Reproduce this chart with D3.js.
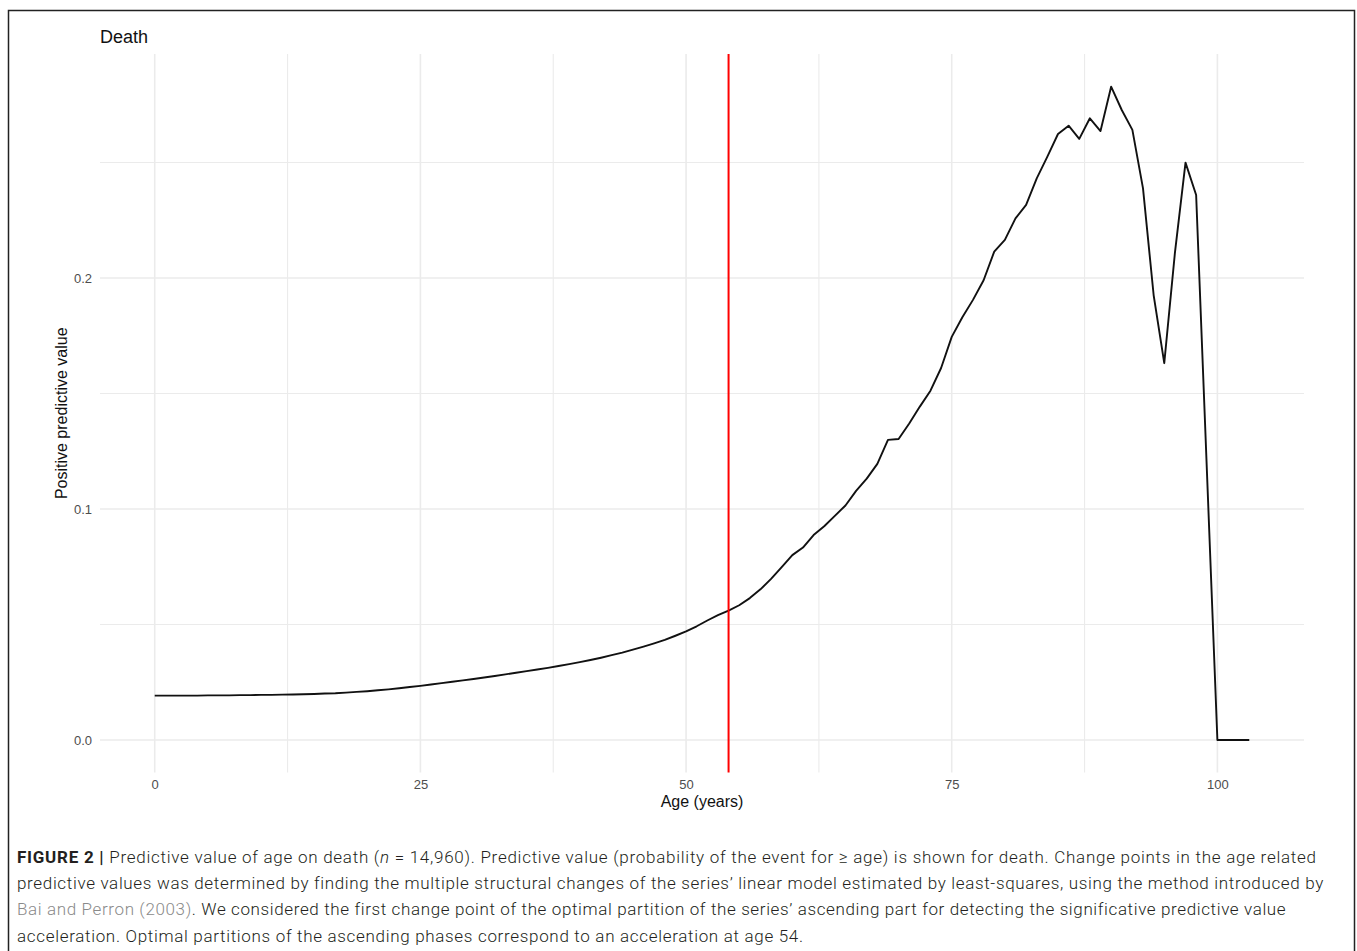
<!DOCTYPE html>
<html><head><meta charset="utf-8">
<script src="https://cdn.jsdelivr.net/npm/d3@7"></script>
<style>
html,body{margin:0;padding:0;background:#fff;}
svg{display:block;}
</style></head>
<body>
<svg id="chart" width="1357" height="951"></svg>
<script>
// ---- data ----
const ages = [0,1,2,3,4,5,6,7,8,9,10,11,12,13,14,15,16,17,18,19,20,21,22,23,24,25,26,27,28,29,30,31,32,33,34,35,36,37,38,39,40,41,42,43,44,45,46,47,48,49,50,51,52,53,54,55,56,57,58,59,60,61,62,63,64,65,66,67,68,69,70,71,72,73,74,75,76,77,78,79,80,81,82,83,84,85,86,87,88,89,90,91,92,93,94,95,96,97,98,100,101,102,103];
const ppv = [0.0192,0.0192,0.0192,0.0192,0.0192,0.0193,0.0193,0.0193,0.0194,0.0194,0.0195,0.0195,0.0196,0.0197,0.0198,0.0199,0.0201,0.0202,0.0205,0.0208,0.0211,0.0215,0.0219,0.0224,0.0229,0.0234,0.0240,0.0246,0.0252,0.0258,0.0264,0.0270,0.0277,0.0284,0.0291,0.0298,0.0305,0.0312,0.0320,0.0328,0.0337,0.0346,0.0356,0.0367,0.0378,0.0391,0.0404,0.0418,0.0433,0.0451,0.0470,0.0492,0.0517,0.0540,0.0560,0.0583,0.0614,0.0652,0.0697,0.0748,0.0800,0.0833,0.0887,0.0925,0.0970,0.1015,0.1078,0.1131,0.1195,0.1299,0.1303,0.1370,0.1443,0.1512,0.1610,0.1745,0.1830,0.1905,0.1990,0.2114,0.2165,0.2258,0.2316,0.2431,0.2525,0.2623,0.2659,0.2602,0.2691,0.2636,0.2828,0.2727,0.2641,0.2388,0.1926,0.1631,0.2107,0.2499,0.2359,0,0,0,0];
const changePoint = [54];
const xMajor = [0,25,50,75,100];
const xMinor = [12.5,37.5,62.5,87.5];
const yMajor = [0,0.1,0.2];
const yMinor = [0.05,0.15,0.25];
const title = "Death";
const xTitle = "Age (years)";
const yTitle = "Positive predictive value";

const FONT = "Liberation Sans, Arial, sans-serif";
const svg = d3.select("#chart");

// outer frame
svg.append("rect").attr("x",8.5).attr("y",10.5).attr("width",1346).attr("height",960)
  .attr("fill","none").attr("stroke","#222").attr("stroke-width",1.5);

const pl=100, pr=1304, pt=54, pb=772.6;
const xmin=d3.min(ages), xmax=d3.max(ages), xs=(xmax-xmin)*0.05;
const ymax=d3.max(ppv), ys=ymax*0.05;
const x = d3.scaleLinear().domain([xmin-xs, xmax+xs]).range([pl,pr]);
const y = d3.scaleLinear().domain([0-ys, ymax+ys]).range([pb,pt]);

const g = svg.append("g");
// grid
g.selectAll(".vmin").data(xMinor).join("line")
  .attr("x1",d=>x(d)).attr("x2",d=>x(d)).attr("y1",pt).attr("y2",pb)
  .attr("stroke","#ebebeb").attr("stroke-width",1.1);
g.selectAll(".hmin").data(yMinor).join("line")
  .attr("y1",d=>y(d)).attr("y2",d=>y(d)).attr("x1",pl).attr("x2",pr)
  .attr("stroke","#ebebeb").attr("stroke-width",1.1);
g.selectAll(".vmaj").data(xMajor).join("line")
  .attr("x1",d=>x(d)).attr("x2",d=>x(d)).attr("y1",pt).attr("y2",pb)
  .attr("stroke","#ebebeb").attr("stroke-width",1.6);
g.selectAll(".hmaj").data(yMajor).join("line")
  .attr("y1",d=>y(d)).attr("y2",d=>y(d)).attr("x1",pl).attr("x2",pr)
  .attr("stroke","#ebebeb").attr("stroke-width",1.6);

// axes (labels only)
const xAxis = d3.axisBottom(x).tickValues(xMajor).tickSize(0).tickPadding(0).tickFormat(d3.format("d"));
const xa = svg.append("g").attr("transform",`translate(0,${pb+4})`).call(xAxis)
  .attr("font-family",FONT).attr("font-size",13);
xa.select(".domain").remove();
xa.selectAll("text").attr("fill","#4d4d4d").attr("dy","0.71em").attr("y",3);

const yAxis = d3.axisLeft(y).tickValues(yMajor).tickSize(0).tickPadding(0).tickFormat(d3.format(".1f"));
const ya = svg.append("g").attr("transform",`translate(${pl-8},0)`).call(yAxis)
  .attr("font-family",FONT).attr("font-size",13);
ya.select(".domain").remove();
ya.selectAll("text").attr("fill","#4d4d4d").attr("x",0);

// data line
const line = d3.line().x((d,i)=>x(ages[i])).y(d=>y(d));
svg.append("path").datum(ppv).attr("d",line).attr("fill","none")
  .attr("stroke","#111").attr("stroke-width",1.9).attr("stroke-linejoin","round");

// change point
svg.selectAll(".cp").data(changePoint).join("line")
  .attr("x1",d=>x(d)).attr("x2",d=>x(d)).attr("y1",pt).attr("y2",pb)
  .attr("stroke","#ff0000").attr("stroke-width",2);

// titles
svg.append("text").attr("x",pl).attr("y",43).text(title)
  .attr("font-family",FONT).attr("font-size",18).attr("fill","#111");
svg.append("text").attr("x",(pl+pr)/2).attr("y",807).attr("text-anchor","middle").text(xTitle)
  .attr("font-family",FONT).attr("font-size",16).attr("fill","#111");
svg.append("text").attr("transform",`translate(67,${(pt+pb)/2}) rotate(-90)`).attr("text-anchor","middle").text(yTitle)
  .attr("font-family",FONT).attr("font-size",16).attr("fill","#111");

// caption
const capLines = [
  {end:1316, parts:[{t:"FIGURE 2 |",w:"bold"},{t:" Predictive value of age on death ("},{t:"n",i:true},{t:" = 14,960). Predictive value (probability of the event for \u2265 age) is shown for death. Change points in the age related"}]},
  {end:1323, parts:[{t:"predictive values was determined by finding the multiple structural changes of the series\u2019 linear model estimated by least-squares, using the method introduced by"}]},
  {end:1285, parts:[{t:"Bai and Perron (2003)",c:"#8a8a8a"},{t:". We considered the first change point of the optimal partition of the series\u2019 ascending part for detecting the significative predictive value"}]},
  {end:803, parts:[{t:"acceleration. Optimal partitions of the ascending phases correspond to an acceleration at age 54."}]}
];
capLines.forEach((ln,k)=>{
  const t = svg.append("text").attr("x",17).attr("y",863+k*26.2)
    .attr("font-family","Roboto, Liberation Sans, Arial, sans-serif").attr("font-weight",300)
    .attr("font-size",17).attr("fill","#231f20");
  ln.parts.forEach(p=>{
    const s=t.append("tspan").text(p.t);
    if(p.w) s.attr("font-weight",p.w);
    if(p.i) s.attr("font-style","italic");
    if(p.c) s.attr("fill",p.c);
  });
  const w = t.node().getComputedTextLength();
  const n = ln.parts.map(p=>p.t).join("").length;
  const ls = ((ln.end-17)-w)/(n-1);
  t.attr("letter-spacing",ls);
});
</script>
</body></html>
